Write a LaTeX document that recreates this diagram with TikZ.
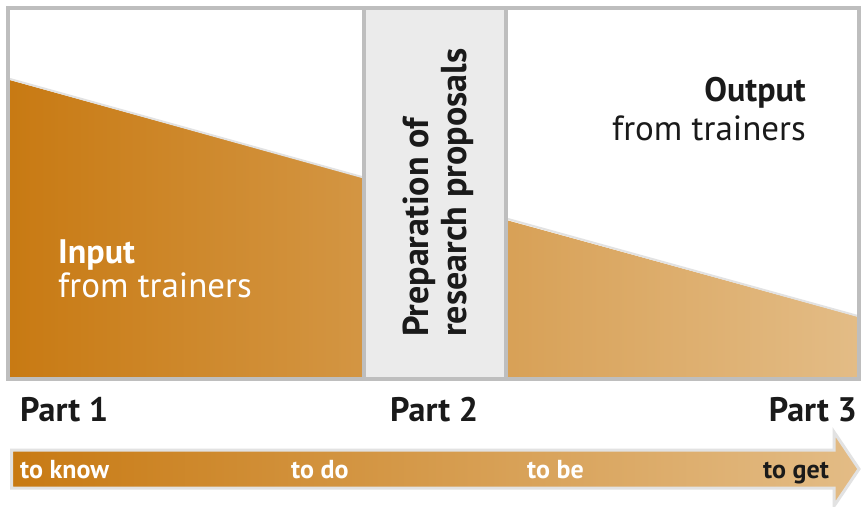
\documentclass[tikz,border=0pt]{standalone}
\usepackage{fontspec}
\setmainfont{PT Sans}
\definecolor{ogL}{HTML}{C87A13}
\definecolor{ogR}{HTML}{E3BC86}
\definecolor{framegray}{HTML}{BEBEBE}
\definecolor{midfill}{HTML}{EBEBEB}
\definecolor{edgegray}{HTML}{E2E2E2}
\definecolor{txtdark}{HTML}{1A1A1A}
\begin{document}
\begin{tikzpicture}[x=1pt,y=-1pt,
  big/.style={inner sep=0pt,font=\fontsize{35}{38}\selectfont},
  bigb/.style={inner sep=0pt,font=\fontsize{34}{37}\selectfont\bfseries},
  rotb/.style={inner sep=0pt,font=\fontsize{36}{39}\selectfont\bfseries},
  small/.style={inner sep=0pt,font=\fontsize{26}{29}\selectfont\bfseries}]
\useasboundingbox (0,0) rectangle (861,506);
\fill[white] (0,0) rectangle (861,506);
% middle panel
\fill[midfill] (364,8) rectangle (506,379);
% left wedge
\begin{scope}
  \clip (9.5,80) -- (364,178) -- (364,379) -- (9.5,379) -- cycle;
  \shade[left color=ogL,right color=ogR] (10,0) rectangle (859,506);
\end{scope}
% right wedge
\begin{scope}
  \clip (506,220) -- (859,317) -- (859,379) -- (506,379) -- cycle;
  \shade[left color=ogL,right color=ogR] (10,0) rectangle (859,506);
\end{scope}
\draw[edgegray,line width=2] (10,79) -- (362,177);
\draw[edgegray,line width=2] (508,219) -- (858,316);
% frame
\draw[framegray,line width=3.5] (8,8) rectangle (859,379);
\draw[framegray,line width=3.5] (364,8) -- (364,379);
\draw[framegray,line width=3.5] (506,8) -- (506,379);
% arrow
\shade[left color=ogL,right color=ogR]
  (11.5,450) -- (834,450) -- (834,432) -- (859,469) -- (834,506) -- (834,488) -- (11.5,488) -- cycle;
\draw[edgegray,line width=3,line join=miter]
  (11.5,450) -- (834,450) -- (834,432) -- (859,469) -- (834,506) -- (834,488) -- (11.5,488) -- cycle;
% texts
\node[bigb,white,anchor=base west] (in1) at (58,263) {Input};
\node[big,white,anchor=base west] (in2) at (58,297) {from trainers};
\node[bigb,txtdark,anchor=base east] (out1) at (806,101) {Output};
\node[big,txtdark,anchor=base east] (out2) at (806,140) {from trainers};
\node[rotb,txtdark,rotate=90,anchor=base west] (prep1) at (428,337) {Preparation of};
\node[rotb,txtdark,rotate=90,anchor=base west] (prep2) at (466,337) {research proposals};
\node[bigb,txtdark,anchor=base west] (p1) at (20,421) {Part 1};
\node[bigb,txtdark,anchor=base west] (p2) at (390,421) {Part 2};
\node[bigb,txtdark,anchor=base east] (p3) at (857,421) {Part 3};
\node[small,white,anchor=base west] (a1) at (20,478) {to know};
\node[small,white,anchor=base west] (a2) at (291,478) {to do};
\node[small,white,anchor=base west] (a3) at (527,478) {to be};
\node[small,txtdark,anchor=base west] (a4) at (763,478) {to get};
\end{tikzpicture}
\end{document}
